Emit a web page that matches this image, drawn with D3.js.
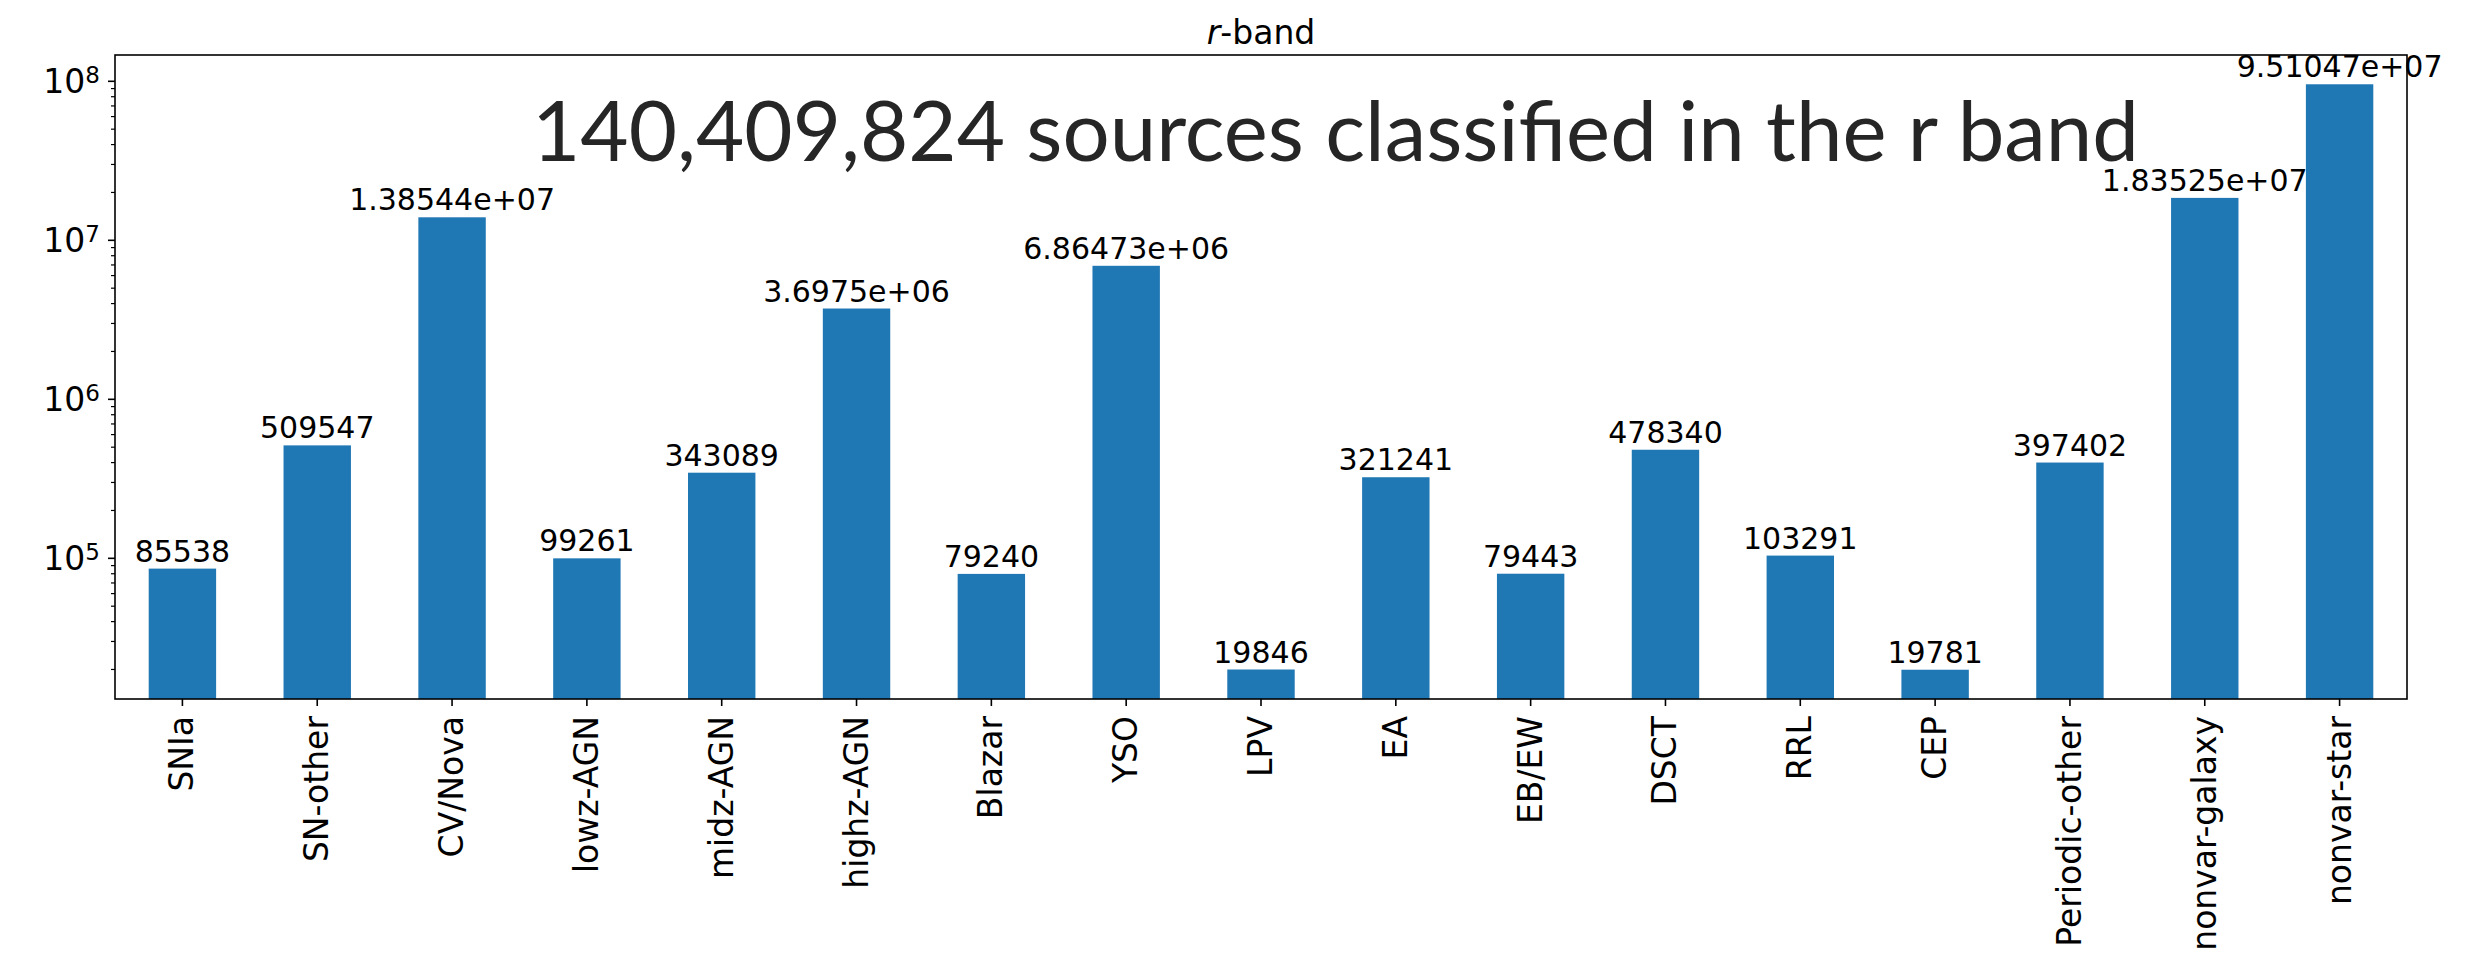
<!DOCTYPE html>
<html>
<head>
<meta charset="utf-8">
<script src="https://cdn.jsdelivr.net/npm/d3@7"></script>
<style>
  html, body { margin: 0; padding: 0; background: #ffffff; }
  svg { display: block; }
  text { font-family: "DejaVu Sans", sans-serif; fill: #000; }
</style>
</head>
<body>
<svg id="chart" width="2490" height="954"></svg>
<script>
// Source counts per class, r band
const categories = ["SNIa", "SN-other", "CV/Nova", "lowz-AGN", "midz-AGN", "highz-AGN",
  "Blazar", "YSO", "LPV", "EA", "EB/EW", "DSCT", "RRL", "CEP", "Periodic-other",
  "nonvar-galaxy", "nonvar-star"];
const counts = [85538, 509547, 13854400, 99261, 343089, 3697500, 79240, 6864730, 19846,
  321241, 79443, 478340, 103291, 19781, 397402, 18352500, 95104700];
const countLabels = ["85538", "509547", "1.38544e+07", "99261", "343089", "3.6975e+06",
  "79240", "6.86473e+06", "19846", "321241", "79443", "478340", "103291", "19781",
  "397402", "1.83525e+07", "9.51047e+07"];
const majorExponents = [5, 6, 7, 8];
const chartTitle = "-band";
const titleVar = "r";
const headline = "140,409,824 sources classified in the r band";

const W = 2490, H = 954;
const margin = { left: 115, right: 2407, top: 55, bottom: 699 };
const svg = d3.select("#chart");

// log-scale limits padded by 5% of the decade span, as matplotlib does
const lmin = Math.log10(d3.min(counts)), lmax = Math.log10(d3.max(counts));
const pad = (lmax - lmin) * 0.05;
const y = d3.scaleLog()
  .domain([Math.pow(10, lmin - pad), Math.pow(10, lmax + pad)])
  .range([margin.bottom, margin.top]);

const x = d3.scaleBand()
  .domain(categories)
  .range([margin.left, margin.right])
  .paddingInner(0.5)
  .paddingOuter(0.25);

// bars, clipped to the axes box
svg.append("defs").append("clipPath").attr("id", "plotClip")
  .append("rect")
  .attr("x", margin.left).attr("y", margin.top)
  .attr("width", margin.right - margin.left)
  .attr("height", margin.bottom - margin.top);

svg.append("g").attr("clip-path", "url(#plotClip)")
  .selectAll("rect")
  .data(categories)
  .join("rect")
  .attr("x", d => x(d))
  .attr("width", x.bandwidth())
  .attr("y", (d, i) => y(counts[i]))
  .attr("height", (d, i) => margin.bottom - y(counts[i]))
  .attr("fill", "#1f77b4");

// value annotations above each bar
svg.append("g")
  .selectAll("text")
  .data(categories)
  .join("text")
  .attr("x", d => x(d) + x.bandwidth() / 2)
  .attr("y", (d, i) => y(counts[i]) - 7)
  .attr("text-anchor", "middle")
  .style("font-size", "30px")
  .text((d, i) => countLabels[i]);

// y axis: minor ticks
const [d0, d1] = y.domain();
const minor = [];
for (let e = Math.floor(Math.log10(d0)); e <= Math.ceil(Math.log10(d1)); e++) {
  for (let m = 2; m <= 9; m++) {
    const v = m * Math.pow(10, e);
    if (v >= d0 && v <= d1) minor.push(v);
  }
}
const gMinor = svg.append("g")
  .attr("transform", `translate(${margin.left},0)`)
  .call(d3.axisLeft(y).tickValues(minor).tickSize(4).tickSizeOuter(0).tickFormat(() => ""));
gMinor.select(".domain").remove();
gMinor.selectAll("line").attr("stroke", "#000").attr("stroke-width", 1.2);

// y axis: major ticks with 10^n labels
const major = majorExponents.map(e => Math.pow(10, e));
const gY = svg.append("g")
  .attr("transform", `translate(${margin.left},0)`)
  .call(d3.axisLeft(y).tickValues(major).tickSize(7).tickSizeOuter(0).tickPadding(8).tickFormat(() => ""));
gY.select(".domain").remove();
gY.selectAll("line").attr("stroke", "#000").attr("stroke-width", 1.6);
gY.selectAll(".tick text")
  .attr("dy", null)
  .attr("y", 12)
  .attr("x", -15)
  .style("font-size", "33px")
  .style("font-family", "DejaVu Sans")
  .attr("fill", "#000")
  .each(function (d, i) {
    const t = d3.select(this);
    t.text(null);
    t.append("tspan").text("10");
    t.append("tspan").attr("dy", -10).style("font-size", "23px").text(String(majorExponents[i]));
  });

// x axis with rotated category labels
const gX = svg.append("g")
  .attr("transform", `translate(0,${margin.bottom})`)
  .call(d3.axisBottom(x).tickSize(7).tickSizeOuter(0).tickPadding(0));
gX.select(".domain").remove();
gX.selectAll("line").attr("stroke", "#000").attr("stroke-width", 1.6);
gX.selectAll(".tick text")
  .attr("y", 0).attr("x", 0).attr("dy", null)
  .attr("transform", "translate(11,17) rotate(-90)")
  .attr("text-anchor", "end")
  .style("font-size", "33px")
  .style("font-family", "DejaVu Sans")
  .attr("fill", "#000");

// axes frame
svg.append("rect")
  .attr("x", margin.left).attr("y", margin.top)
  .attr("width", margin.right - margin.left)
  .attr("height", margin.bottom - margin.top)
  .attr("fill", "none")
  .attr("stroke", "#000")
  .attr("stroke-width", 1.6);

// title
const title = svg.append("text")
  .attr("x", (margin.left + margin.right) / 2)
  .attr("y", 44)
  .attr("text-anchor", "middle")
  .style("font-size", "33px");
title.append("tspan").style("font-style", "italic").text(titleVar);
title.append("tspan").text(chartTitle);

// headline text inside the axes
const head = svg.append("text")
  .attr("x", 532)
  .attr("y", 161)
  .attr("text-anchor", "start")
  .style("font-family", "Lato, 'Noto Sans', sans-serif")
  .style("font-size", "80px")
  .style("fill", "#262626")
  .text(headline);
const targetWidth = 2139 - 532;
const w0 = head.node().getComputedTextLength();
head.style("font-size", (80 * targetWidth / w0).toFixed(2) + "px");
</script>
</body>
</html>
